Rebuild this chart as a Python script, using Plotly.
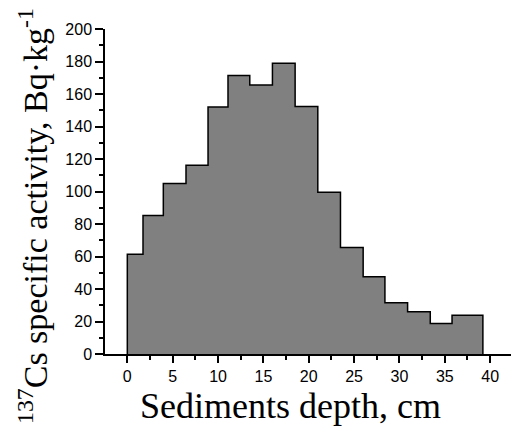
import plotly.graph_objects as go

# bin edges (cm) and specific activity (Bq/kg)
depth_edges = [0, 1.73, 3.97, 6.47, 8.9, 11.1, 13.5, 16.0, 18.5, 21.0, 23.5, 26.0, 28.4, 30.9, 33.4, 35.8, 39.2]
activity = [61.4, 85.2, 104.9, 116.2, 152.0, 171.4, 165.5, 179.0, 152.3, 99.6, 65.5, 47.6, 31.6, 26.0, 18.7, 23.8]
x_ticks = [0, 5, 10, 15, 20, 25, 30, 35, 40]
y_ticks = [0, 20, 40, 60, 80, 100, 120, 140, 160, 180, 200]

# step outline built from the edges/values
xs = [depth_edges[0]] + depth_edges[:-1] + [depth_edges[-1]]
ys = [0] + activity + [0]

W, H = 511, 426
ML, MR, MT, MB = 105, 0, 29, 72
pw, ph = W - ML - MR, H - MT - MB

def px_x(p):
    return (p - ML) / pw

def px_y(p):
    return (H - MB - p) / ph

fig = go.Figure()
fig.add_trace(go.Scatter(
    x=xs, y=ys, mode="lines", line=dict(shape="hv", color="black", width=1.5),
    fill="tozeroy", fillcolor="#808080", hoverinfo="skip", showlegend=False,
))

tickfont = dict(family="Liberation Sans, Arial", size=16, color="black")
fig.update_xaxes(
    range=[-2.46, 42.3], tickvals=x_ticks, ticktext=[str(v) for v in x_ticks],
    showline=True, linecolor="black", linewidth=1.5, showgrid=False, zeroline=False,
    ticks="outside", ticklen=7, tickwidth=1.5, tickcolor="black", tickfont=tickfont,
    minor=dict(dtick=2.5, tick0=0, ticks="outside", ticklen=4, tickwidth=1.5, tickcolor="black", showgrid=False),
)
fig.update_yaxes(
    range=[0, 200], tickvals=y_ticks, ticktext=[str(v) for v in y_ticks],
    showline=True, linecolor="black", linewidth=1.5, showgrid=False, zeroline=False,
    ticks="outside", ticklen=8, tickwidth=1.5, tickcolor="black", tickfont=tickfont,
    minor=dict(dtick=10, tick0=0, ticks="outside", ticklen=4, tickwidth=1.5, tickcolor="black", showgrid=False),
)

fig.add_annotation(
    text="Sediments depth, cm", xref="paper", yref="paper",
    x=px_x(290), y=px_y(406), xanchor="center", yanchor="middle",
    showarrow=False, font=dict(family="Liberation Serif, Times New Roman", size=36, color="black"),
)
fig.add_annotation(
    text="<sup>137</sup>Cs specific activity, Bq·kg<sup>-1</sup>", xref="paper", yref="paper",
    x=px_x(33), y=px_y(216), xanchor="center", yanchor="middle", textangle=-90,
    showarrow=False, font=dict(family="Liberation Serif, Times New Roman", size=34, color="black"),
)

fig.update_layout(
    width=W, height=H, margin=dict(l=ML, r=MR, t=MT, b=MB, pad=0),
    paper_bgcolor="white", plot_bgcolor="white",
)
fig.write_html("out.html")
